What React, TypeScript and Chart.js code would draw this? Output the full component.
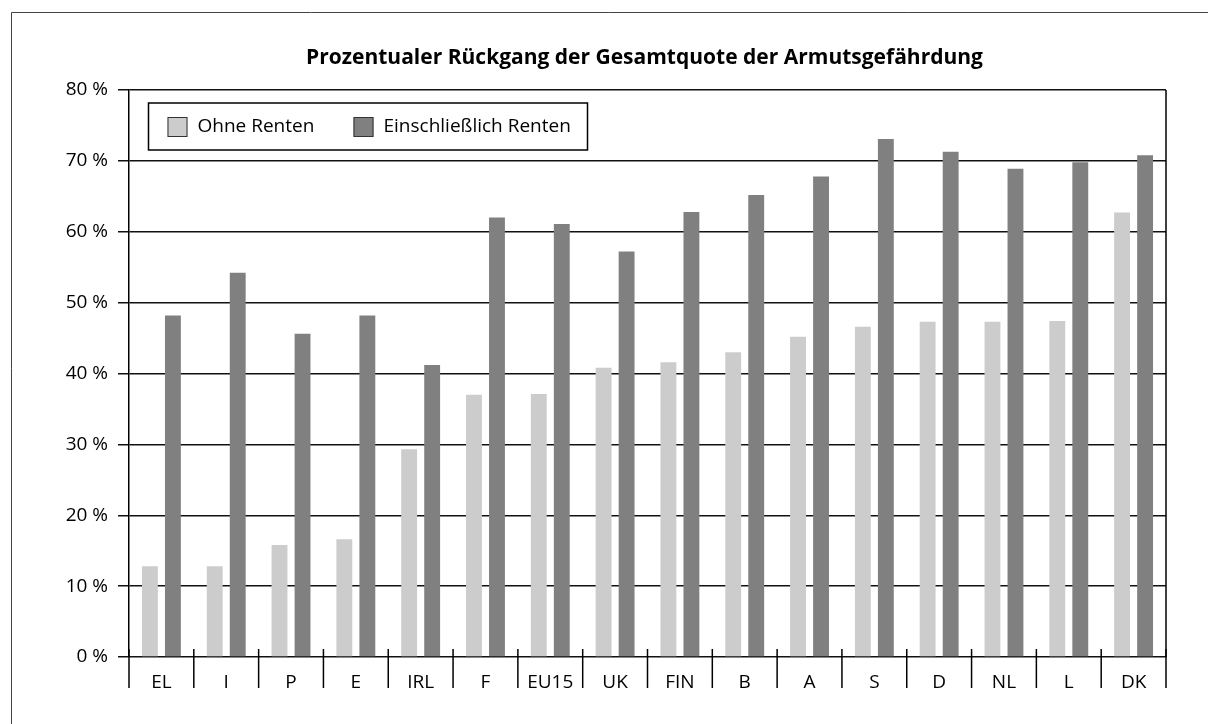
import React, { useEffect, useRef } from "react";
import { Chart, registerables } from "chart.js";

Chart.register(...registerables);

const TITLE = "Prozentualer Rückgang der Gesamtquote der Armutsgefährdung";
const categories = ["EL", "I", "P", "E", "IRL", "F", "EU15", "UK", "FIN", "B", "A", "S", "D", "NL", "L", "DK"];
const ohneRenten = [12.8, 12.8, 15.8, 16.6, 29.3, 37.0, 37.1, 40.8, 41.6, 43.0, 45.2, 46.6, 47.3, 47.3, 47.4, 62.7];
const einschlRenten = [48.2, 54.2, 45.6, 48.2, 41.2, 62.0, 61.1, 57.2, 62.8, 65.2, 67.8, 73.1, 71.3, 68.9, 69.8, 70.8];
const seriesLabels = ["Ohne Renten", "Einschließlich Renten"];
const seriesColors = ["#cccccc", "#808080"];

const FONT = "'Open Sans', 'Noto Sans', sans-serif";

const decorPlugin = {
  id: "decor",
  afterDraw(chart: any) {
    const ctx = chart.ctx;
    const area = chart.chartArea;
    const xs = chart.scales.x;
    ctx.save();
    // outer frame (left + top)
    ctx.strokeStyle = "#444";
    ctx.lineWidth = 1;
    ctx.beginPath();
    ctx.moveTo(11.5, chart.height);
    ctx.lineTo(11.5, 12.5);
    ctx.lineTo(chart.width, 12.5);
    ctx.stroke();

    // title
    ctx.fillStyle = "#000";
    ctx.font = `bold 21px ${FONT}`;
    ctx.textAlign = "center";
    ctx.textBaseline = "alphabetic";
    ctx.fillText(TITLE, (area.left + area.right) / 2 - 3, 64);

    // right border
    ctx.strokeStyle = "#000";
    ctx.lineWidth = 1.5;
    ctx.beginPath();
    ctx.moveTo(area.right, area.top);
    ctx.lineTo(area.right, area.bottom);
    ctx.stroke();

    // category separators
    const n = categories.length;
    const half = (xs.getPixelForValue(1) - xs.getPixelForValue(0)) / 2;
    for (let i = 0; i <= n; i++) {
      const x = i < n ? xs.getPixelForValue(i) - half : xs.getPixelForValue(n - 1) + half;
      ctx.beginPath();
      ctx.moveTo(x, area.bottom - 8);
      ctx.lineTo(x, area.bottom + 31);
      ctx.stroke();
    }

    // legend
    const bx = area.left + 19.5;
    const by = area.top + 13;
    ctx.lineWidth = 1.5;
    ctx.strokeStyle = "#000";
    ctx.strokeRect(bx, by, 439, 47);
    ctx.font = `19px ${FONT}`;
    ctx.textAlign = "left";
    ctx.textBaseline = "middle";
    const itemX = [bx + 19, bx + 205];
    chart.data.datasets.forEach((ds: any, i: number) => {
      const sx = itemX[i];
      const sy = by + 14;
      ctx.fillStyle = ds.backgroundColor;
      ctx.fillRect(sx, sy, 20, 20);
      ctx.lineWidth = 1;
      ctx.strokeStyle = "#333";
      ctx.strokeRect(sx + 0.5, sy + 0.5, 19, 19);
      ctx.fillStyle = "#000";
      ctx.fillText(ds.label, sx + 30, sy + 10);
    });
    ctx.restore();
  },
};

export default function App() {
  const ref = useRef<HTMLCanvasElement | null>(null);
  useEffect(() => {
    if (!ref.current) return;
    const chart = new Chart(ref.current, {
      type: "bar",
      data: {
        labels: categories,
        datasets: [
          { label: seriesLabels[0], data: ohneRenten, backgroundColor: seriesColors[0] },
          { label: seriesLabels[1], data: einschlRenten, backgroundColor: seriesColors[1] },
        ],
      },
      options: {
        responsive: false,
        animation: false,
        layout: { padding: { top: 90, right: 42, left: 0, bottom: 0 } },
        datasets: { bar: { categoryPercentage: 0.71, barPercentage: 0.69 } },
        plugins: { legend: { display: false }, title: { display: false }, tooltip: { enabled: false } },
        scales: {
          x: {
            grid: { display: false, drawTicks: false },
            border: { display: false },
            ticks: { color: "#000", font: { family: FONT, size: 19 }, padding: 14, autoSkip: false, maxRotation: 0 },
            afterFit: (s: any) => { s.height = 67; },
          },
          y: {
            min: 0,
            max: 80,
            grid: { color: "#111", lineWidth: 1.5, tickLength: 11, drawTicks: true },
            border: { display: true, color: "#000", width: 1.5 },
            ticks: {
              stepSize: 10,
              color: "#000",
              padding: 10,
              font: { family: FONT, size: 19 },
              callback: (v: any) => `${v} %`,
            },
            afterFit: (s: any) => { s.width = 129; },
          },
        },
      },
      plugins: [decorPlugin],
    });
    return () => chart.destroy();
  }, []);
  return (
    <div style={{ position: "fixed", left: 0, top: 0, width: 1208, height: 724, background: "#fff" }}>
      <canvas ref={ref} width={1208} height={724} />
    </div>
  );
}
